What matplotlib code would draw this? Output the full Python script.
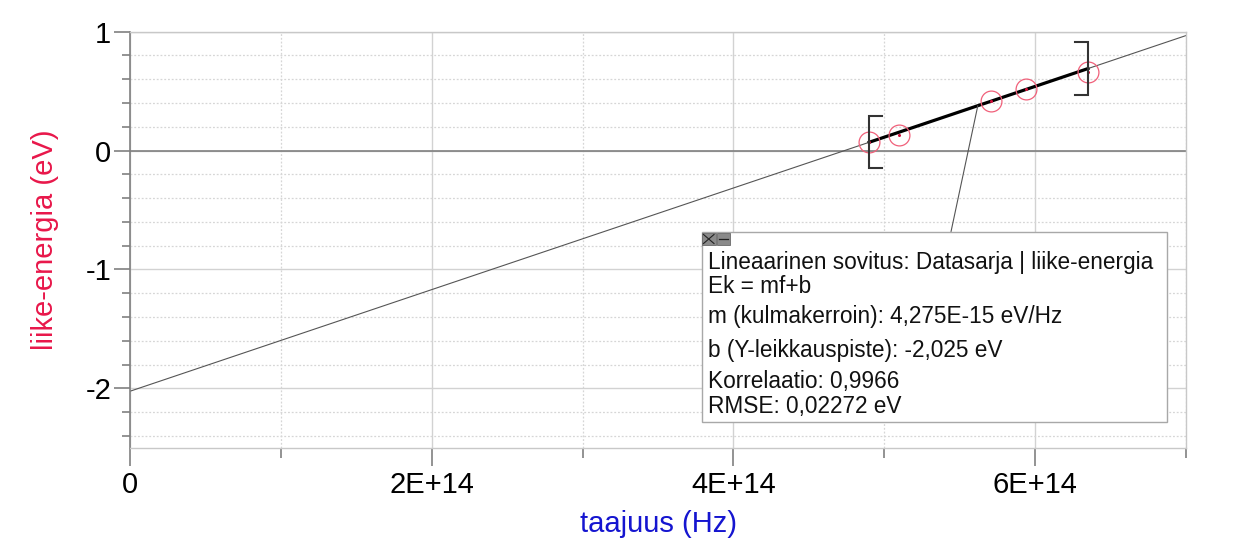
import matplotlib
matplotlib.use("Agg")
import matplotlib.pyplot as plt
import numpy as np
from matplotlib.ticker import MultipleLocator, FuncFormatter
from matplotlib.patches import Rectangle

plt.rcParams['font.family'] = ['Liberation Sans', 'DejaVu Sans']

# ---- data ----
freq = [4.90e14, 5.10e14, 5.71e14, 5.94e14, 6.35e14]      # Hz
energy = [0.07, 0.13, 0.42, 0.515, 0.66]                   # eV
slope = 4.275e-15
intercept = -2.025
x_ticks_major = [0, 2e14, 4e14, 6e14]
x_tick_labels = ["0", "2E+14", "4E+14", "6E+14"]
y_ticks_major = [-2, -1, 0, 1]
box_lines = [
    "Lineaarinen sovitus: Datasarja | liike-energia",
    "Ek = mf+b",
    "m (kulmakerroin): 4,275E-15 eV/Hz",
    "b (Y-leikkauspiste): -2,025 eV",
    "Korrelaatio: 0,9966",
    "RMSE: 0,02272 eV",
]
x_label = "taajuus (Hz)"
y_label = "liike-energia (eV)"

W, H = 1253, 557
fig = plt.figure(figsize=(W / 100, H / 100), dpi=100)
ax_l, ax_r, ax_t, ax_b = 130, 1186, 31.7, 447.7
ax = fig.add_axes([ax_l / W, 1 - ax_b / H, (ax_r - ax_l) / W, (ax_b - ax_t) / H])

xmin, xmax = 0, 7e14
ymin, ymax = -2.5, 1
ax.set_xlim(xmin, xmax)
ax.set_ylim(ymin, ymax)

# grid
ax.xaxis.set_major_locator(MultipleLocator(2e14))
ax.xaxis.set_minor_locator(MultipleLocator(1e14))
ax.yaxis.set_major_locator(MultipleLocator(1))
ax.yaxis.set_minor_locator(MultipleLocator(0.2))
ax.grid(which='major', color='#d2d2d2', lw=1.0, ls='-')
ax.grid(which='minor', color='#d6d6d6', lw=0.9, ls=(0, (1.5, 1.5)))
ax.set_axisbelow(True)

ax.xaxis.set_major_formatter(FuncFormatter(
    lambda v, p: x_tick_labels[x_ticks_major.index(v)] if v in x_ticks_major else ""))
ax.yaxis.set_major_formatter(FuncFormatter(lambda v, p: f"{int(round(v))}"))

ax.tick_params(which='major', axis='x', length=13, width=1.2, color='#808080',
               labelsize=21, pad=4)
ax.tick_params(which='minor', axis='x', length=7, width=1.2, color='#808080')
ax.tick_params(which='major', axis='y', length=11.5, width=1.2, color='#808080',
               labelsize=21, pad=2)
ax.tick_params(which='minor', axis='y', length=5.8, width=1.2, color='#808080')

for s in ['top', 'right', 'bottom']:
    ax.spines[s].set_color('#c8c8c8')
    ax.spines[s].set_linewidth(1.0)
ax.spines['left'].set_color('#808080')
ax.spines['left'].set_linewidth(1.2)

ax.axhline(0, color='#808080', lw=1.2, zorder=1)

ax.set_xlabel(x_label, color='#1515d0', fontsize=21, labelpad=8)
ax.set_ylabel(y_label, color='#e8174a', fontsize=21, labelpad=19)

# fit line across full range
xs = np.array([xmin, xmax])
ax.plot(xs, slope * xs + intercept, color='#555555', lw=0.8, zorder=2)
# bold fit across data range
xf = np.array([min(freq), max(freq)])
ax.plot(xf, slope * xf + intercept, color='black', lw=2.3, zorder=3)

# data points
ax.plot(freq, energy, ls='none', marker='o', ms=15, mfc='none', mec='#f0607a',
        mew=0.9, zorder=4)
ax.plot(freq, energy, ls='none', marker='o', ms=2.2, mfc='#d0103a', mec='none', zorder=4)

# range brackets
bh = 0.22
bw = 0.085e14
x0, x1 = min(freq), max(freq)
y0, y1 = slope * x0 + intercept, slope * x1 + intercept
ax.plot([x0 + bw, x0, x0, x0 + bw], [y0 + bh, y0 + bh, y0 - bh, y0 - bh],
        color='#333333', lw=1.5, zorder=5, solid_joinstyle='miter')
ax.plot([x1 - bw, x1, x1, x1 - bw], [y1 + bh, y1 + bh, y1 - bh, y1 - bh],
        color='#333333', lw=1.5, zorder=5, solid_joinstyle='miter')

# helper: pixel -> axes fraction
def px(xp, yp):
    return ((xp - ax_l) / (ax_r - ax_l), (ax_b - yp) / (ax_b - ax_t))

# connector line
xc = 5.62e14
bx0, by0 = px(701.7, 421.7)
bx1, by1 = px(1166.7, 231.7)
cx, cy = px(951, 231.7)
ax.annotate('', xy=(xc, slope * xc + intercept), xycoords='data',
            xytext=(cx, cy), textcoords='axes fraction',
            arrowprops=dict(arrowstyle='-', color='#555555', lw=0.8,
                            shrinkA=0, shrinkB=0), zorder=6)

# annotation box
ax.add_patch(Rectangle((bx0, by0), bx1 - bx0, by1 - by0, transform=ax.transAxes,
                       facecolor='white', edgecolor='#a8a8a8', lw=1.0, zorder=7,
                       clip_on=False))
# small icons
for (l, r) in [(702, 715.5), (716.5, 730)]:
    a0 = px(l, 245)
    a1 = px(r, 233)
    ax.add_patch(Rectangle(a0, a1[0] - a0[0], a1[1] - a0[1], transform=ax.transAxes,
                           facecolor='#8a8a8a', edgecolor='#6a6a6a', lw=0.6,
                           zorder=8, clip_on=False))
p0 = px(703.5, 243.5); p1 = px(714, 234.5)
ax.plot([p0[0], p1[0]], [p0[1], p1[1]], color='#222222', lw=0.8,
        transform=ax.transAxes, zorder=9, clip_on=False)
ax.plot([p0[0], p1[0]], [p1[1], p0[1]], color='#222222', lw=0.8,
        transform=ax.transAxes, zorder=9, clip_on=False)
m0 = px(719, 239); m1 = px(727.5, 239)
ax.plot([m0[0], m1[0]], [m0[1], m1[1]], color='#222222', lw=0.9,
        transform=ax.transAxes, zorder=9, clip_on=False)

baselines = [269.3, 293.3, 323.3, 357.3, 388.3, 412.7]
for line, b in zip(box_lines, baselines):
    tx, ty = px(708, b)
    ax.text(tx, ty, line, transform=ax.transAxes, fontsize=16.25, va='baseline',
            ha='left', color='#111111', zorder=10)

fig.savefig("out.png", dpi=100)
